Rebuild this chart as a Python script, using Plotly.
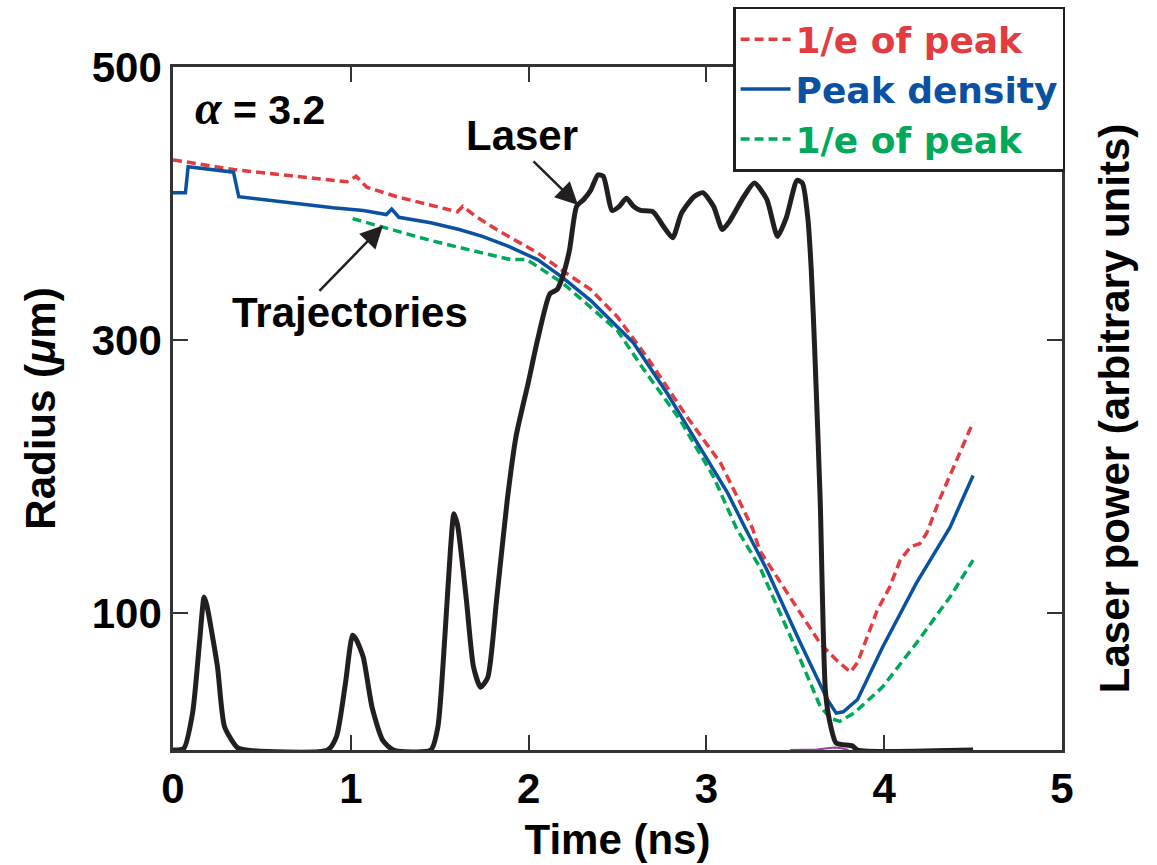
import plotly.graph_objects as go

# ---- data ----
laser_t = [0.00, 0.06, 0.11, 0.15, 0.175, 0.19, 0.25, 0.29, 0.36, 0.41, 0.87, 0.92, 0.97, 1.01, 1.03, 1.07,
           1.12, 1.18, 1.24, 1.45, 1.49, 1.53, 1.56, 1.58, 1.60, 1.65, 1.69, 1.73, 1.77, 1.82, 1.88,
           1.93, 2.00, 2.05, 2.12, 2.16, 2.19, 2.23, 2.27, 2.31, 2.35, 2.39, 2.42, 2.47, 2.51, 2.55,
           2.59, 2.63, 2.70, 2.76, 2.81, 2.86, 2.93, 2.98, 3.04, 3.09, 3.13, 3.21, 3.27, 3.34, 3.40,
           3.45, 3.51, 3.54, 3.57, 3.59, 3.61, 3.64, 3.67, 3.70, 3.73, 3.82, 3.85, 4.50]
laser_p = [0, 1, 27, 80, 112, 106, 61, 17, 2, 0, 0, 10, 49, 84, 81, 68,
           31, 7, 0, 0, 17, 85, 146, 173, 165, 110, 61, 46, 53, 110, 183,
           230, 270, 300, 334, 337, 346, 366, 398, 403, 410, 421, 420, 395, 398, 404,
           398, 395, 394, 383, 375, 393, 405, 408, 398, 381, 387, 405, 415, 403, 376,
           390, 417, 415, 390, 351, 290, 183, 42, 17, 5, 3, 0, 0]

red_t = [0.00, 0.34, 0.62, 0.98, 1.03, 1.09, 1.26, 1.45, 1.60, 1.63, 1.71, 1.82, 1.93, 2.05, 2.19,
         2.35, 2.50, 2.68, 2.89, 3.08, 3.19, 3.26, 3.30, 3.47, 3.64, 3.73, 3.81, 3.85, 3.96, 4.03,
         4.09, 4.15, 4.20, 4.24, 4.31, 4.50]
red_r = [432, 425, 421, 416, 420, 412, 405, 399, 394, 398, 390, 381, 373, 364, 351,
         337, 317, 285, 244, 210, 181, 162, 146, 112, 78, 66, 57, 64, 102, 119,
         139, 149, 151, 159, 183, 240]

blue_t = [0.00, 0.07, 0.085, 0.34, 0.37, 0.62, 0.90, 1.07, 1.20, 1.23, 1.27, 1.45, 1.61, 1.74, 1.90,
          2.05, 2.19, 2.35, 2.48, 2.59, 2.78, 2.96, 3.12, 3.22, 3.34, 3.53, 3.68, 3.73, 3.77, 3.85,
          3.99, 4.18, 4.37, 4.50]
blue_r = [408, 408, 427, 423, 405, 401, 397, 395, 392, 396, 390, 386, 381, 376, 368,
          359, 346, 329, 312, 298, 261, 222, 188, 162, 132, 78, 37, 27, 28, 37,
          75, 122, 163, 201]

green_t = [1.01, 1.18, 1.45, 1.67, 1.90, 1.99, 2.08, 2.19, 2.35, 2.50, 2.64, 2.85, 3.04, 3.17, 3.30,
           3.49, 3.64, 3.70, 3.75, 3.83, 3.99, 4.18, 4.37, 4.50]
green_r = [389, 383, 373, 366, 359, 359, 351, 342, 324, 307, 280, 242, 200, 162, 134,
           78, 32, 23, 21, 27, 46, 78, 112, 139]

purple_t = [3.47, 3.62, 3.68, 3.72, 3.76, 3.80]
purple_p = [0, 0.3, 1.2, 1.8, 1.2, 0]

x_ticks = [0, 1, 2, 3, 4, 5]
y_ticks = [100, 300, 500]

RED = "#e23b40"
BLUE = "#0a51a1"
GREEN = "#00a85a"
BLACK = "#231f20"
FONT = "Liberation Sans, Arial, Helvetica, sans-serif"
LFONT = "DejaVu Sans, Liberation Sans, sans-serif"

fig = go.Figure()
fig.add_trace(go.Scatter(x=red_t, y=red_r, mode="lines",
                         line=dict(color=RED, width=3.5, dash="9px,5px"),
                         name=f'<span style="color:{RED}">1/e of peak</span>'))
fig.add_trace(go.Scatter(x=blue_t, y=blue_r, mode="lines",
                         line=dict(color=BLUE, width=3.5),
                         name=f'<span style="color:{BLUE}">Peak density</span>'))
fig.add_trace(go.Scatter(x=green_t, y=green_r, mode="lines",
                         line=dict(color=GREEN, width=3.5, dash="9px,5px"),
                         name=f'<span style="color:{GREEN}">1/e of peak</span>'))
fig.add_trace(go.Scatter(x=purple_t, y=purple_p, mode="lines", yaxis="y2",
                         line=dict(color="#9b3fa3", width=2), showlegend=False))
fig.add_trace(go.Scatter(x=laser_t, y=laser_p, mode="lines", yaxis="y2",
                         line=dict(color=BLACK, width=5, shape="spline", smoothing=0.6),
                         showlegend=False))

axis_common = dict(showline=True, linecolor="#333333", linewidth=2.5, ticks="inside",
                   ticklen=15, tickwidth=2, tickcolor="#333333", showgrid=False, zeroline=False,
                   tickfont=dict(family=FONT, size=42, color="black", weight="bold"))

fig.update_layout(
    width=1157, height=865,
    margin=dict(l=173, r=95, t=67, b=115, autoexpand=False),
    paper_bgcolor="white", plot_bgcolor="white",
    font=dict(family=FONT, size=40, color="black", weight="bold"),
    xaxis=dict(range=[0, 5], tickvals=x_ticks, mirror="ticks",
               title=dict(text="Time (ns)", font=dict(family=FONT, size=42, weight="bold"), standoff=14),
               **axis_common),
    yaxis=dict(range=[0, 500], tickvals=y_ticks,
               title=dict(text='Radius (<i>μ</i>m)', font=dict(family=FONT, size=42, weight="bold"), standoff=24),
               **axis_common),
    yaxis2=dict(range=[0, 500], tickvals=y_ticks, overlaying="y", side="right", showticklabels=False,
                title=dict(text="Laser power (arbitrary units)", font=dict(family=FONT, size=42, weight="bold"),
                           standoff=36),
                **axis_common),
    legend=dict(x=0.630, y=1.088, xanchor="left", yanchor="top",
                bgcolor="white", bordercolor="#231f20", borderwidth=2.5,
                font=dict(family=LFONT, size=36, weight="bold"),
                tracegroupgap=0, itemwidth=50),
    showlegend=True,
)

# arrows
fig.add_annotation(x=2.278, y=399, yref="y2", text="", showarrow=True, arrowhead=2, arrowsize=1.8,
                   arrowwidth=2.5, arrowcolor=BLACK, ax=-46, ay=-45)
fig.add_annotation(x=1.181, y=384, text="", showarrow=True, arrowhead=2, arrowsize=1.8,
                   arrowwidth=2.5, arrowcolor=BLACK, ax=-65, ay=67)
# labels
fig.add_annotation(x=1.963, y=450, text="Laser", showarrow=False,
                   font=dict(family=FONT, size=42, color="black", weight="bold"))
fig.add_annotation(x=0.996, y=320, text="Trajectories", showarrow=False,
                   font=dict(family=FONT, size=42, color="black", weight="bold"))
fig.add_annotation(x=0.112, y=470, xanchor="left",
                   text='<span style="font-family:Liberation Serif;font-size:48px"><i>α</i></span> = 3.2',
                   showarrow=False, font=dict(family=FONT, size=41, color="black", weight="bold"))

fig.write_html("out.html")
